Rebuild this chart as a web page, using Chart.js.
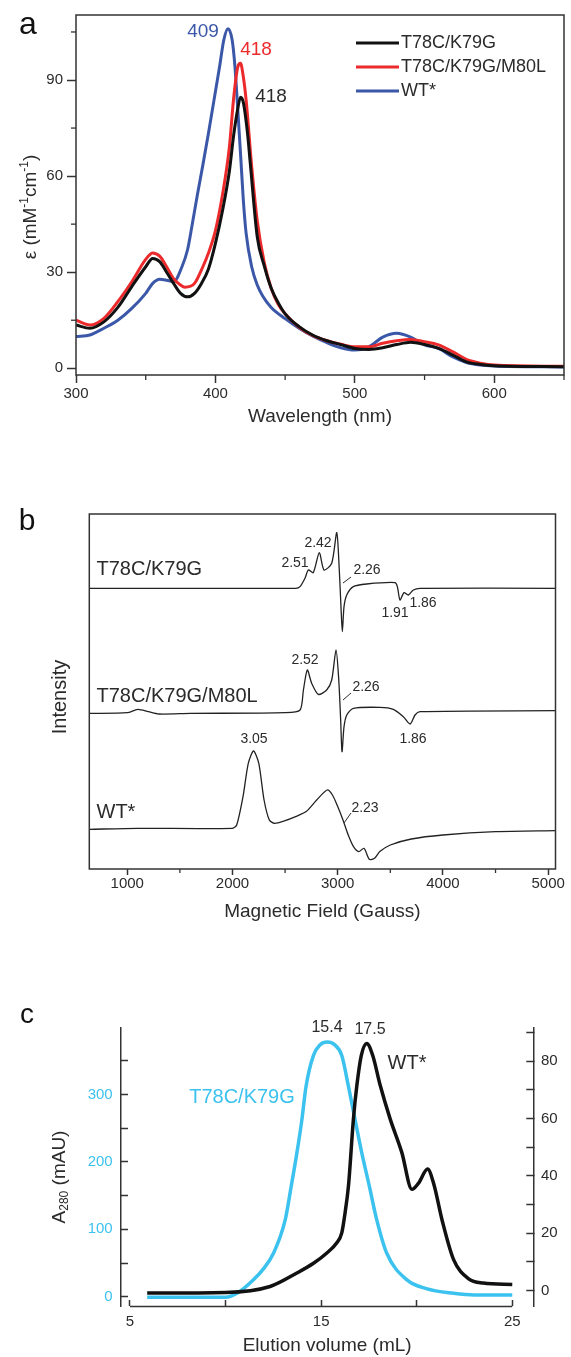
<!DOCTYPE html>
<html>
<head>
<meta charset="utf-8">
<script src="https://cdn.jsdelivr.net/npm/chart.js@4.4.0/dist/chart.umd.min.js"></script>
<style>
  html, body { margin: 0; padding: 0; background: #fff; }
  #page { position: relative; width: 571px; height: 1357px; }
  canvas { position: absolute; left: 0; }
</style>
</head>
<body>
<div id="page">
  <canvas id="chartA" width="571" height="470" style="top:0"></canvas>
  <canvas id="chartB" width="571" height="480" style="top:470px"></canvas>
  <canvas id="chartC" width="571" height="407" style="top:950px"></canvas>
</div>
<script>
// ---- panel a: UV-vis spectra (epsilon, mM-1 cm-1) ----
const wlK79G = [300, 310, 320, 330, 340, 350, 355, 360, 365, 370, 375, 380, 385, 390, 395, 400, 405, 410, 413, 416, 418, 420, 423, 425, 430, 435, 440, 445, 450, 460, 470, 480, 490, 500, 510, 520, 530, 540, 550, 560, 570, 580, 590, 600, 650];
const epsK79G = [13.5, 12.5, 14.5, 19, 25.5, 31.7, 34.3, 33.3, 30, 26.5, 23.4, 22.3, 23.4, 26.5, 31, 39, 49, 61.5, 72.5, 81, 84.6, 83, 73.4, 64, 41, 32, 25, 20.5, 17, 13, 10.3, 8.6, 7.4, 6.2, 5.9, 6.4, 7.4, 8.1, 7.4, 6.2, 4.2, 2, 1.2, 0.8, 0.5];
const wlM80L = [300, 310, 320, 330, 340, 350, 355, 360, 365, 370, 375, 378, 385, 391, 395, 400, 405, 410, 413, 416, 418, 420, 422, 426, 430, 435, 440, 445, 450, 460, 470, 480, 490, 500, 510, 520, 530, 540, 550, 560, 570, 580, 590, 600, 650];
const epsM80L = [15, 13.5, 15.6, 20.8, 27, 34, 36, 35, 31.7, 28, 26, 25.3, 26.5, 31.7, 36, 43, 54, 69, 84, 94, 95.2, 91, 83.8, 63, 46, 33, 25, 20, 17, 12.8, 10.2, 8.6, 7.5, 6.7, 6.7, 7.8, 8.6, 9, 8.3, 7.3, 5.2, 2.8, 1.6, 1, 0.6];
const wlWT = [300, 310, 320, 330, 340, 350, 355, 360, 365, 370, 376, 380, 383, 387, 391, 395, 399, 403, 406, 409, 412, 414, 416, 418, 420, 422, 426, 430, 434, 440, 450, 460, 470, 480, 490, 500, 510, 520, 530, 540, 550, 560, 570, 580, 590, 600, 650];
const epsWT = [9.9, 10.4, 12.5, 15, 18.7, 23.4, 26.5, 27.8, 27.5, 27, 31.7, 37, 44, 54, 63.5, 73.4, 83.8, 94.2, 102.5, 106, 102.5, 94.2, 81, 67, 52.6, 42.2, 31.7, 26, 22.5, 19, 15.5, 12.5, 10, 8, 6.4, 5.7, 6.7, 9.7, 10.9, 9.7, 7.3, 6.2, 3.6, 1.8, 1, 0.7, 0.4];
const uvTicksX = [300, 400, 500, 600];
const uvTicksY = [0, 30, 60, 90];

// ---- panel b: EPR spectra (relative intensity, stacked) ----
const fieldK79G = [639, 2600, 2642, 2689, 2721, 2768, 2825, 2870, 2943, 2991, 3015, 3031, 3044, 3060, 3086, 3148, 3275, 3545, 3567, 3592, 3630, 3671, 3719, 3782, 5070];
const eprK79G = [0, 0, 1.7, 10, 18.3, 15.7, 35.7, 18.3, 25, 55.7, 18.3, -18.3, -43.3, -18.3, -6.7, 1.7, 4.3, 5.7, 1.7, -11.7, -4.3, -6.7, -1.7, 0, 0];
const fieldM80L = [639, 1000, 1100, 1200, 1300, 1600, 2500, 2642, 2674, 2711, 2753, 2816, 2895, 2943, 2984, 3010, 3028, 3041, 3060, 3086, 3148, 3402, 3529, 3624, 3688, 3735, 3782, 5070];
const eprM80L = [-1.7, -1, 2.3, 0, -2.3, -1.7, -1, 1.7, 21.7, 41.7, 28.3, 17.3, 21.7, 31.7, 61.7, 31.7, -8.3, -40, -15, -3.3, 3.3, 4.3, 2.3, -5, -12.3, -3.3, 0, 1];
const fieldWT = [639, 1100, 2000, 2040, 2100, 2150, 2200, 2250, 2300, 2350, 2400, 2500, 2600, 2700, 2800, 2900, 2950, 3000, 3050, 3100, 3150, 3200, 3250, 3300, 3350, 3400, 3500, 3700, 4000, 4500, 5070];
const eprWT = [0, 1, 1, 4.3, 32.7, 66, 78.3, 66, 29.3, 9.3, 6, 8.7, 12.7, 17.7, 29.3, 39.3, 34.3, 22.7, 9.3, -5.7, -17.3, -22.3, -19, -30, -29, -22.3, -15.7, -9.7, -5.7, -2.3, -1.3];
const eprOffsets = [280.7, 157.3, 39.7];
const eprTicksX = [1000, 2000, 3000, 4000, 5000];

// ---- panel c: size-exclusion chromatography ----
const volK79G = [5.9, 8, 10, 10.6, 11.46, 12, 12.5, 13.12, 13.43, 13.73, 13.99, 14.21, 14.6, 14.95, 15.33, 15.7, 16.08, 16.43, 16.78, 17.13, 17.53, 17.91, 18.44, 19.49, 20.5, 21.93, 23, 25];
const a280K79G = [-1, -1, -1, 5, 25, 42, 64, 114, 163, 213, 262, 312, 358, 374, 378, 374, 358, 312, 262, 213, 163, 114, 64, 25, 12, 5, 2.5, 2.5];
const volWT = [5.9, 10, 12.33, 13.73, 14.6, 15.3, 15.8, 16.08, 16.25, 16.43, 16.69, 16.87, 17.1, 17.39, 17.7, 18.09, 18.61, 19.22, 19.75, 20.1, 20.57, 20.9, 21.32, 21.93, 22.72, 23.48, 25];
const a280WT = [-0.9, -0.7, 1.4, 6.1, 9.5, 13.1, 16.5, 20.1, 27, 36.5, 59.9, 71.6, 82, 86.2, 82, 71.6, 59.9, 48.2, 35.3, 37.5, 42.4, 37, 24.8, 10.8, 4.1, 2.6, 2.1];
const secTicksX = [5, 10, 15, 20, 25];
const secTicksLeft = [0, 50, 100, 150, 200, 250, 300, 350];
const secTicksRight = [0, 10, 20, 30, 40, 50, 60, 70, 80, 90];

const FONT = "'Liberation Sans', Arial, Helvetica, sans-serif";
const TEXT = '#2b2b2b';
const AXIS = '#333';
const BLACK = '#111';
const RED = '#ec2a2c';
const BLUE = '#3b57a8';
const CYAN = '#3cc2ee';

Chart.defaults.font.family = FONT;
Chart.defaults.color = TEXT;

function pts(xs, ys, offset = 0) {
  return xs.map((x, i) => ({ x: x, y: ys[i] + offset }));
}
function fixWidth(w) { return s => { s.width = w; }; }
function fixHeight(h) { return s => { s.height = h; }; }
function setTicks(values) { return s => { s.ticks = values.map(v => ({ value: v })); }; }

function label(ctx, str, x, y, size, color, align) {
  ctx.font = size + 'px ' + FONT;
  ctx.fillStyle = color;
  ctx.textAlign = align || 'center';
  ctx.textBaseline = 'middle';
  ctx.fillText(str, x, y);
}

// rotated axis title built from pieces [text, size, shift]
function verticalTitle(ctx, parts, cx, cy) {
  ctx.save();
  ctx.translate(cx, cy);
  ctx.rotate(-Math.PI / 2);
  ctx.fillStyle = TEXT;
  ctx.textBaseline = 'middle';
  ctx.textAlign = 'left';
  let total = 0;
  parts.forEach(p => { ctx.font = p[1] + 'px ' + FONT; total += ctx.measureText(p[0]).width; });
  let x = -total / 2;
  parts.forEach(p => {
    ctx.font = p[1] + 'px ' + FONT;
    ctx.fillText(p[0], x, p[2]);
    x += ctx.measureText(p[0]).width;
  });
  ctx.restore();
}

function minorTicks(ctx, scale, values, len) {
  ctx.strokeStyle = AXIS;
  ctx.lineWidth = 1.3;
  values.forEach(v => {
    const p = scale.getPixelForValue(v);
    ctx.beginPath();
    if (scale.isHorizontal()) { ctx.moveTo(p, scale.top); ctx.lineTo(p, scale.top + len); }
    else { ctx.moveTo(scale.right, p); ctx.lineTo(scale.right - len, p); }
    ctx.stroke();
  });
}

function frame(ctx, a) {
  ctx.strokeStyle = AXIS;
  ctx.lineWidth = 1.5;
  ctx.strokeRect(a.left, a.top, a.right - a.left, a.bottom - a.top);
}

const baseOptions = {
  responsive: false,
  animation: false,
  devicePixelRatio: 1,
  elements: { point: { radius: 0 }, line: { cubicInterpolationMode: 'monotone' } },
};

// ---------------- panel a ----------------
const decoA = {
  id: 'decoA',
  afterDraw(chart) {
    const { ctx, chartArea, scales } = chart;
    ctx.save();
    frame(ctx, chartArea);
    minorTicks(ctx, scales.x, [350, 450, 550, 650], 5);
    minorTicks(ctx, scales.y, [15, 45, 75, 105], 5);
    label(ctx, '409', 203, 32, 19, BLUE);
    label(ctx, '418', 256, 50, 19, RED);
    label(ctx, '418', 271, 97, 19, TEXT);
    const legend = [['T78C/K79G', BLACK], ['T78C/K79G/M80L', RED], ['WT*', BLUE]];
    legend.forEach((item, i) => {
      const y = 43 + i * 24;
      ctx.strokeStyle = item[1];
      ctx.lineWidth = 3;
      ctx.beginPath(); ctx.moveTo(356, y); ctx.lineTo(399, y); ctx.stroke();
      label(ctx, item[0], 401, y, 18, TEXT, 'left');
    });
    verticalTitle(ctx, [['\u03b5 (mM', 19, 0], ['-1', 12, -6], ['cm', 19, 0], ['-1', 12, -6], [')', 19, 0]], 31, 207);
    label(ctx, 'a', 28, 25, 32, '#111');
    ctx.restore();
  }
};

new Chart(document.getElementById('chartA'), {
  type: 'line',
  data: {
    datasets: [
      { label: 'T78C/K79G', data: pts(wlK79G, epsK79G), borderColor: BLACK, borderWidth: 3 },
      { label: 'T78C/K79G/M80L', data: pts(wlM80L, epsM80L), borderColor: RED, borderWidth: 3 },
      { label: 'WT*', data: pts(wlWT, epsWT), borderColor: BLUE, borderWidth: 3 },
    ],
  },
  options: {
    ...baseOptions,
    layout: { padding: { left: 0, right: 7, top: 15, bottom: 0 } },
    plugins: { legend: { display: false }, tooltip: { enabled: false } },
    scales: {
      x: {
        type: 'linear', min: 300, max: 650,
        afterFit: fixHeight(95),
        afterBuildTicks: setTicks(uvTicksX),
        ticks: { font: { size: 15 }, padding: 2, maxRotation: 0, color: TEXT, callback: v => String(v) },
        grid: { drawOnChartArea: false, tickLength: 8, tickColor: AXIS, tickWidth: 1.5 },
        border: { display: false },
        title: { display: true, text: 'Wavelength (nm)', font: { size: 19 }, color: TEXT, padding: { top: 0, bottom: 42 } },
      },
      y: {
        min: -2.1, max: 110.3,
        afterFit: fixWidth(76),
        afterBuildTicks: setTicks(uvTicksY),
        ticks: { font: { size: 15 }, padding: 4, color: TEXT, callback: v => String(v) },
        grid: { drawOnChartArea: false, tickLength: 9, tickColor: AXIS, tickWidth: 1.5 },
        border: { display: false },
      },
    },
  },
  plugins: [decoA],
});

// ---------------- panel b ----------------
const decoB = {
  id: 'decoB',
  afterDraw(chart) {
    const { ctx, chartArea, scales } = chart;
    ctx.save();
    frame(ctx, chartArea);
    minorTicks(ctx, scales.x, [1500, 2500, 3500, 4500], 4);
    label(ctx, 'T78C/K79G', 96.5, 99, 20, TEXT, 'left');
    label(ctx, 'T78C/K79G/M80L', 96.5, 226, 20, TEXT, 'left');
    label(ctx, 'WT*', 96.5, 342, 20, TEXT, 'left');
    const gValues = [
      ['2.51', 295, 93], ['2.42', 318, 73], ['2.26', 367, 100], ['1.91', 395, 143], ['1.86', 423, 133],
      ['2.52', 305, 190], ['2.26', 366, 217], ['1.86', 413, 269],
      ['3.05', 254, 269], ['2.23', 365, 338],
    ];
    gValues.forEach(g => label(ctx, g[0], g[1], g[2], 14, TEXT));
    ctx.strokeStyle = TEXT;
    ctx.lineWidth = 1;
    [[343, 113, 351, 107], [343, 230, 351, 223], [344, 353, 351, 343]].forEach(l => {
      ctx.beginPath(); ctx.moveTo(l[0], l[1]); ctx.lineTo(l[2], l[3]); ctx.stroke();
    });
    verticalTitle(ctx, [['Intensity', 20, 0]], 60, 227);
    label(ctx, 'b', 27, 52, 30, '#111');
    ctx.restore();
  }
};

const eprLine = { borderColor: '#222', borderWidth: 1.3, cubicInterpolationMode: 'default', tension: 0.25 };

new Chart(document.getElementById('chartB'), {
  type: 'line',
  data: {
    datasets: [
      { label: 'T78C/K79G', data: pts(fieldK79G, eprK79G, eprOffsets[0]), ...eprLine },
      { label: 'T78C/K79G/M80L', data: pts(fieldM80L, eprM80L, eprOffsets[1]), ...eprLine },
      { label: 'WT*', data: pts(fieldWT, eprWT, eprOffsets[2]), ...eprLine },
    ],
  },
  options: {
    ...baseOptions,
    layout: { padding: { left: 0, right: 15.5, top: 44, bottom: 0 } },
    plugins: { legend: { display: false }, tooltip: { enabled: false } },
    scales: {
      x: {
        type: 'linear', min: 639, max: 5070,
        afterFit: fixHeight(81),
        afterBuildTicks: setTicks(eprTicksX),
        ticks: { font: { size: 15 }, padding: 0, maxRotation: 0, color: TEXT, callback: v => String(v) },
        grid: { drawOnChartArea: false, tickLength: 6, tickColor: AXIS, tickWidth: 1.5 },
        border: { display: false },
        title: { display: true, text: 'Magnetic Field (Gauss)', font: { size: 19 }, color: TEXT, padding: { top: 0, bottom: 27 } },
      },
      y: {
        min: 0, max: 355,
        afterFit: fixWidth(89.3),
        ticks: { display: false },
        grid: { display: false },
        border: { display: false },
      },
    },
  },
  plugins: [decoB],
});

// ---------------- panel c ----------------
const decoC = {
  id: 'decoC',
  afterDraw(chart) {
    const { ctx, chartArea, scales } = chart;
    ctx.save();
    ctx.strokeStyle = AXIS;
    ctx.lineWidth = 1.5;
    ctx.beginPath();
    ctx.moveTo(scales.x.getPixelForValue(5), chartArea.bottom + 0.5);
    ctx.lineTo(scales.x.getPixelForValue(25), chartArea.bottom + 0.5);
    ctx.stroke();
    label(ctx, '15.4', 327, 78, 16, TEXT);
    label(ctx, '17.5', 370, 80, 16, TEXT);
    label(ctx, 'WT*', 407, 113, 20, TEXT);
    label(ctx, 'T78C/K79G', 242, 147, 20, CYAN);
    verticalTitle(ctx, [['A', 19, 0], ['280', 12, 5], [' (mAU)', 19, 0]], 60, 227);
    label(ctx, 'c', 27, 65, 28, '#111');
    ctx.restore();
  }
};

new Chart(document.getElementById('chartC'), {
  type: 'line',
  data: {
    datasets: [
      { label: 'WT*', data: pts(volWT, a280WT), borderColor: BLACK, borderWidth: 3.5, yAxisID: 'yR' },
      { label: 'T78C/K79G', data: pts(volK79G, a280K79G), borderColor: CYAN, borderWidth: 3.5, yAxisID: 'yL' },
    ],
  },
  options: {
    ...baseOptions,
    layout: { padding: { left: 0, right: 0, top: 78, bottom: 0 } },
    plugins: { legend: { display: false }, tooltip: { enabled: false } },
    scales: {
      x: {
        type: 'linear', min: 4.53, max: 26.1,
        afterFit: fixHeight(51),
        afterBuildTicks: setTicks(secTicksX),
        ticks: { font: { size: 15 }, padding: 12.7, maxRotation: 0, color: TEXT, callback: v => (v % 10 === 5 ? String(v) : '') },
        grid: { drawOnChartArea: false, tickLength: -6, tickColor: AXIS, tickWidth: 1.5 },
        border: { display: false },
        title: { display: true, text: 'Elution volume (mL)', font: { size: 19 }, color: TEXT, padding: { top: 0, bottom: 0 } },
      },
      yL: {
        position: 'left', min: -13.8, max: 398.7,
        afterFit: fixWidth(121),
        afterBuildTicks: setTicks(secTicksLeft),
        ticks: { font: { size: 15 }, padding: 15.3, color: CYAN, callback: v => (v % 100 === 0 ? String(v) : '') },
        grid: { drawOnChartArea: false, tickLength: -7, tickColor: AXIS, tickWidth: 1.5 },
        border: { display: true, color: AXIS, width: 1.5 },
      },
      yR: {
        position: 'right', min: -5.4, max: 91.6,
        afterFit: fixWidth(37.7),
        afterBuildTicks: setTicks(secTicksRight),
        ticks: { font: { size: 15 }, padding: 14.7, color: TEXT, callback: v => (v % 20 === 0 ? String(v) : '') },
        grid: { drawOnChartArea: false, tickLength: -7, tickColor: AXIS, tickWidth: 1.5 },
        border: { display: true, color: AXIS, width: 1.5 },
      },
    },
  },
  plugins: [decoC],
});
</script>
</body>
</html>
